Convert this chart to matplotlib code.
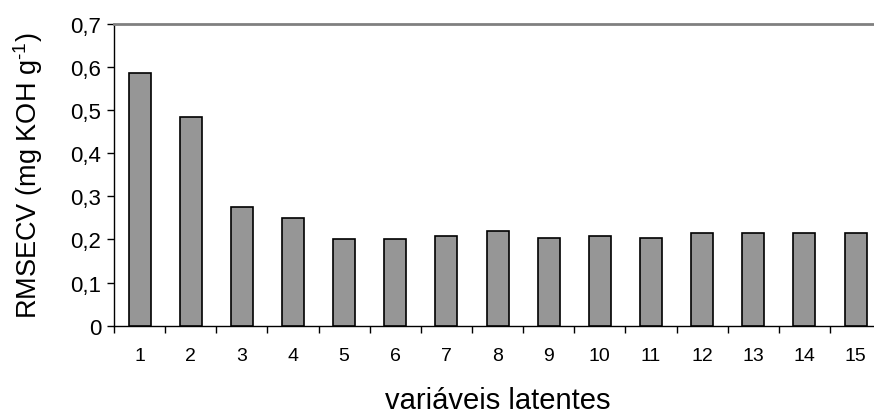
import matplotlib

matplotlib.use("Agg")
import matplotlib.pyplot as plt
import numpy as np

plt.rcParams["font.family"] = ["Liberation Sans", "DejaVu Sans"]

# RMSECV per number of latent variables
latent_vars = list(range(1, 16))
rmsecv = [0.586, 0.485, 0.275, 0.250, 0.201, 0.201, 0.209, 0.219,
          0.204, 0.209, 0.204, 0.214, 0.214, 0.214, 0.214]
y_ticks = [0, 0.1, 0.2, 0.3, 0.4, 0.5, 0.6, 0.7]
y_tick_labels = ["0", "0,1", "0,2", "0,3", "0,4", "0,5", "0,6", "0,7"]

fig = plt.figure(figsize=(8.74, 4.14), dpi=100)
ax = fig.add_axes([0.1304, 0.2109, 0.8777, 0.7287])

ax.bar(latent_vars, rmsecv, width=0.43, color="#969696",
       edgecolor="black", linewidth=1.2, zorder=3)

ax.set_xlim(0.5, 15.5)
ax.set_ylim(0, 0.7)

# category boundaries carry the tick marks, labels sit between them
ax.set_xticks(np.arange(0.5, 16, 1.0))
ax.set_xticklabels([])
ax.set_xticks(latent_vars, minor=True)
ax.set_xticklabels([str(v) for v in latent_vars], minor=True)
ax.tick_params(axis="x", which="major", direction="out", length=5,
               width=1, color="black")
ax.tick_params(axis="x", which="minor", length=0, pad=15, labelsize=14)

ax.set_yticks(y_ticks)
ax.set_yticklabels(y_tick_labels)
ax.tick_params(axis="y", direction="out", length=5, width=1,
               color="black", pad=4, labelsize=16)

ax.spines["top"].set_color("#808080")
ax.spines["top"].set_linewidth(2)
ax.spines["right"].set_visible(False)
ax.spines["left"].set_color("black")
ax.spines["bottom"].set_color("black")
ax.spines["left"].set_linewidth(1)
ax.spines["bottom"].set_linewidth(1)

# superscript written with a hyphen (U+2010) rather than a minus sign
fig.text(28 / 874, 0.575, "RMSECV (mg KOH g$^{\\mathregular{\u20101}}$)",
         rotation=90, ha="center", va="center", fontsize=19.5)
fig.text(0.569, 5 / 414, "variáveis latentes", ha="center", va="baseline",
         fontsize=21)

fig.savefig("out.png", dpi=100)
plt.close(fig)
